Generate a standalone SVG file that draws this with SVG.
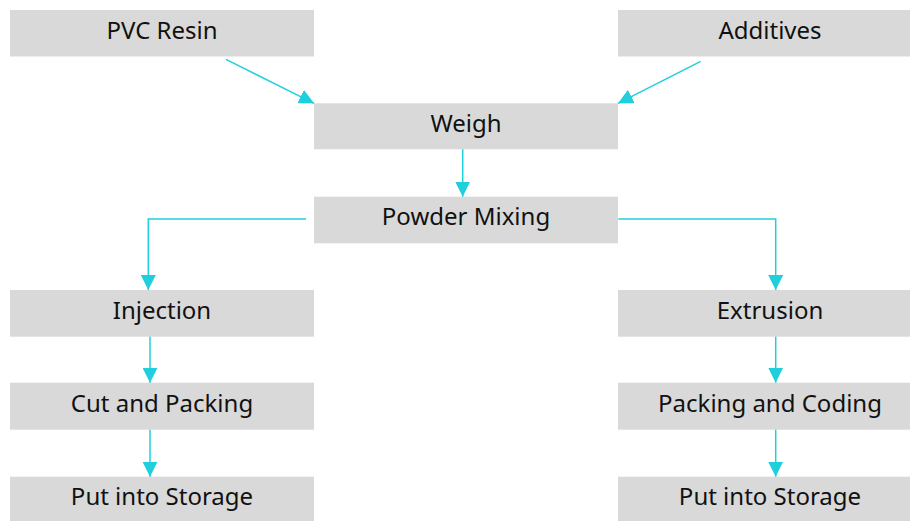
<svg xmlns="http://www.w3.org/2000/svg" width="910" height="521" viewBox="0 0 910 521">
<style>
.box{fill:#d9d9d9}
.lbl{font-family:"Noto Sans","Open Sans",sans-serif;font-size:24px;fill:#111;text-anchor:middle}
.con{fill:none;stroke:#1fcfdc;stroke-width:1.5}
</style>
<defs>
<marker id="ah" markerUnits="userSpaceOnUse" markerWidth="15" markerHeight="15" refX="15" refY="7.5" orient="auto" viewBox="0 0 15 15">
<path d="M0,0 L15,7.5 L0,15 z" fill="#1fcfdc"/>
</marker>
</defs>
<rect width="910" height="521" fill="#fff"/>
<g id="pvc"><rect class="box" x="10" y="10" width="304" height="46.5"/><text class="lbl" x="162" y="38.8">PVC Resin</text></g>
<g id="additives"><rect class="box" x="618" y="10" width="292" height="46.5"/><text class="lbl" x="770" y="38.8">Additives</text></g>
<g id="weigh"><rect class="box" x="314" y="103.3" width="304" height="46"/><text class="lbl" x="466" y="131.8">Weigh</text></g>
<g id="mixing"><rect class="box" x="314" y="196.7" width="304" height="46.6"/><text class="lbl" x="466" y="225.3">Powder Mixing</text></g>
<g id="injection"><rect class="box" x="10" y="290" width="304" height="46.7"/><text class="lbl" x="162" y="318.8">Injection</text></g>
<g id="cut"><rect class="box" x="10" y="382.7" width="304" height="47"/><text class="lbl" x="162" y="411.8">Cut and Packing</text></g>
<g id="storage1"><rect class="box" x="10" y="476.7" width="304" height="44.3"/><text class="lbl" x="162" y="505.3">Put into Storage</text></g>
<g id="extrusion"><rect class="box" x="618" y="290" width="292" height="46.7"/><text class="lbl" x="770" y="318.8">Extrusion</text></g>
<g id="coding"><rect class="box" x="618" y="382.7" width="292" height="47"/><text class="lbl" x="770" y="411.8">Packing and Coding</text></g>
<g id="storage2"><rect class="box" x="618" y="476.7" width="292" height="44.3"/><text class="lbl" x="770" y="505.3">Put into Storage</text></g>
<g id="connectors">
<path class="con" d="M226,59.3 L314,103.3" marker-end="url(#ah)"/>
<path class="con" d="M700.7,61.3 L618,103.3" marker-end="url(#ah)"/>
<path class="con" d="M462.7,149.3 V196.7" marker-end="url(#ah)"/>
<path class="con" d="M306,219 H148.3 V290" marker-end="url(#ah)"/>
<path class="con" d="M618.3,219 H775.7 V290" marker-end="url(#ah)"/>
<path class="con" d="M150,336.7 V382.7" marker-end="url(#ah)"/>
<path class="con" d="M150,429.7 V476.7" marker-end="url(#ah)"/>
<path class="con" d="M775.7,336.7 V382.7" marker-end="url(#ah)"/>
<path class="con" d="M775.7,429.7 V476.7" marker-end="url(#ah)"/>
</g>
</svg>
